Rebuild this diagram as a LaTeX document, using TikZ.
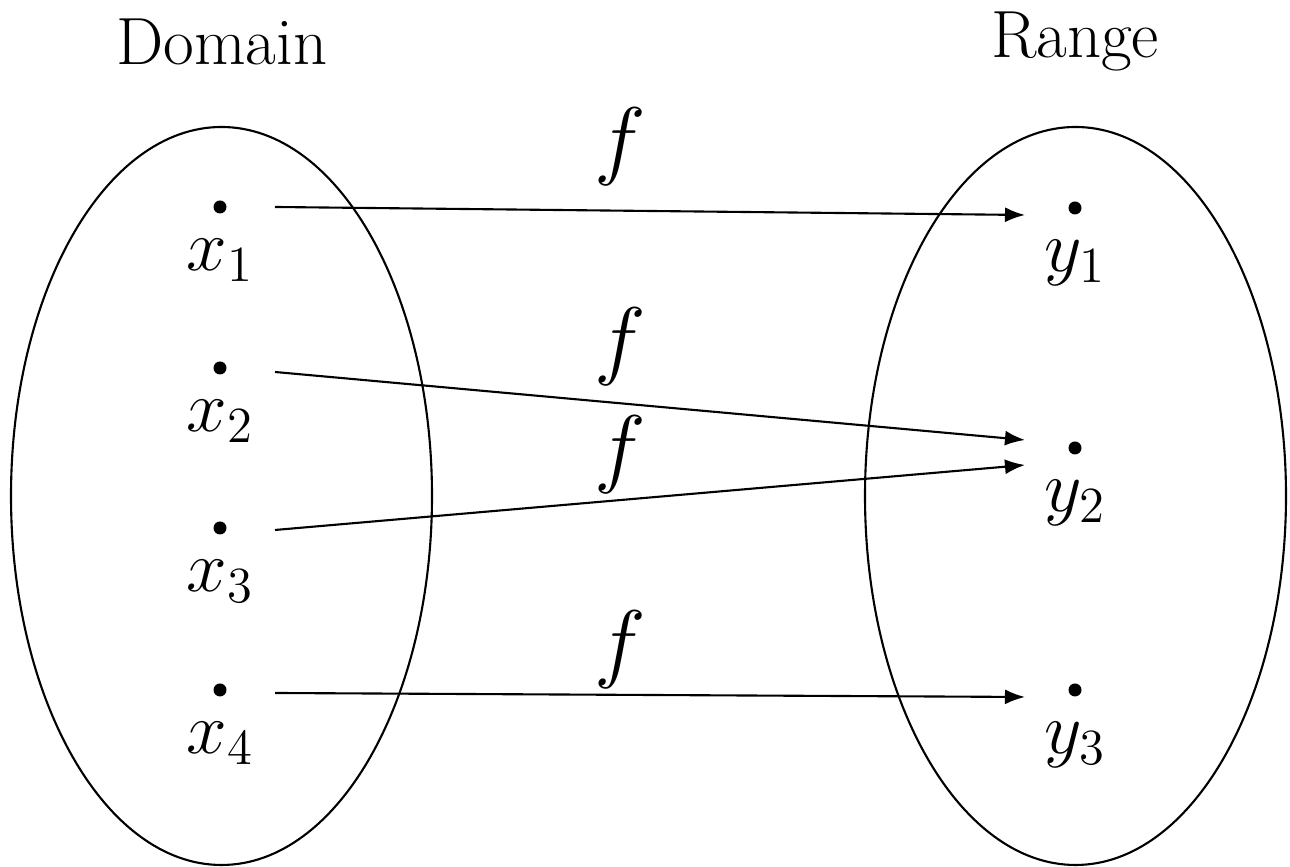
\documentclass[tikz,border=0pt]{standalone}
\usepackage{amsmath}
\usetikzlibrary{arrows.meta,calc,positioning}

\begin{document}
\begin{tikzpicture}[x=1cm,y=1cm,font=\fontsize{19}{23}\selectfont,>=Latex,
  line width=.6pt]
 \tikzset{pt/.style={circle,fill,inner sep=0pt,minimum size=.13cm},
   lab/.style={inner sep=0pt,font=\fontsize{20}{24}\selectfont},
   fmap/.style={font=\fontsize{24}{28}\selectfont}}
 \useasboundingbox (0,0) rectangle (12.9,8.67);
 \draw (2.215,3.71) ellipse [x radius=2.105, y radius=3.69];
 \draw (10.755,3.71) ellipse [x radius=2.105, y radius=3.69];
 \node (dom) at (2.22,8.25) {Domain};
 \node (ran) at (10.75,8.25) {Range};
 % points of the domain
 \node[pt] (x1) at (2.2,6.60) {};
 \node[pt] (x2) at (2.2,4.99) {};
 \node[pt] (x3) at (2.2,3.39) {};
 \node[pt] (x4) at (2.2,1.77) {};
 % points of the range
 \node[pt] (y1) at (10.75,6.59) {};
 \node[pt] (y2) at (10.75,4.19) {};
 \node[pt] (y3) at (10.75,1.77) {};
 \foreach \v in {1,2,3,4}{
    \node[lab,below=2.4mm of x\v] (lx\v) {$x_\v$};
 }
 \foreach \v in {1,2,3}{
    \node[lab,below=2.4mm of y\v] (ly\v) {$y_\v$};
 }
 \foreach \a/\b/\da/\db [count=\i] in
    {1/1/0/-.07, 2/2/-.04/.08, 3/2/-.02/-.17, 4/3/-.03/-.07}{
    \coordinate (s\i) at ($(x\a)+(.55,\da)$);
    \coordinate (e\i) at ($(y\b)+(-.5,\db)$);
    \draw[->] (s\i)--(e\i);
 }
 \node[fmap] (f1) at (6.2,7.20) {$f$};
 \node[fmap] (f2) at (6.2,5.20) {$f$};
 \node[fmap] (f3) at (6.2,4.12) {$f$};
 \node[fmap] (f4) at (6.2,2.17) {$f$};
\end{tikzpicture}
\end{document}
